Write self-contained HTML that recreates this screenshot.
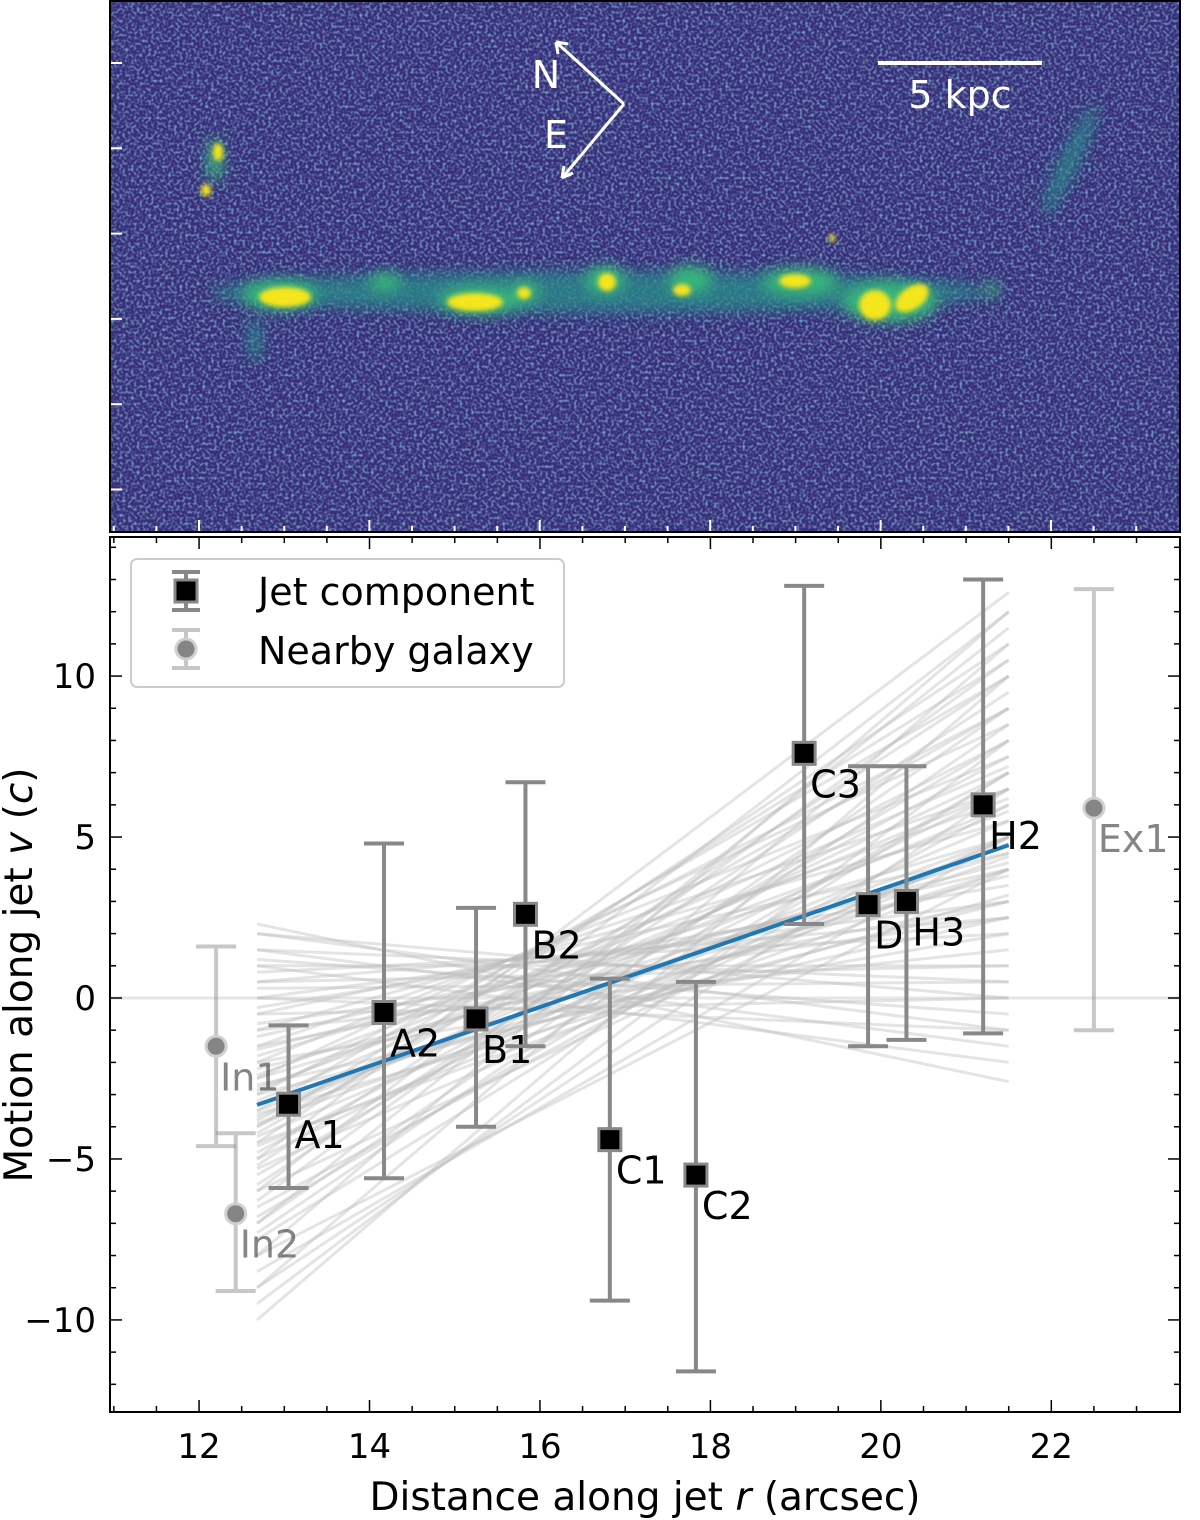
<!DOCTYPE html>
<html><head><meta charset="utf-8"><style>
html,body{margin:0;padding:0;background:#fff;}
svg{display:block;font-family:"DejaVu Sans","Liberation Sans",sans-serif;}
</style></head><body>
<svg id="fig" width="1200" height="1520" viewBox="0 0 1200 1520" xmlns="http://www.w3.org/2000/svg">
<defs>
<filter id="noise" x="0" y="0" width="100%" height="100%">
<feTurbulence type="fractalNoise" baseFrequency="0.35" numOctaves="1" seed="3" result="t"/>
<feColorMatrix type="matrix" values="0 0 0 0 0.17  0 0 0 0 0.42  0 0 0 0 0.56  0 0 0 2.6 -1.15"/>
</filter>
<filter id="blur6"><feGaussianBlur stdDeviation="7"/></filter>
<filter id="blur3"><feGaussianBlur stdDeviation="2.5"/></filter>
<clipPath id="imgclip"><rect x="110" y="0" width="1070" height="532"/></clipPath>
</defs>
<g id="image-panel" clip-path="url(#imgclip)">
<rect x="110" y="0" width="1070" height="532" fill="#3a2d7b"/>
<rect x="110" y="0" width="1070" height="532" filter="url(#noise)"/>
<g filter="url(#blur6)" fill="#2a8a8a" opacity="0.8">
<ellipse cx="600" cy="292" rx="390" ry="20"/>
<ellipse cx="255" cy="340" rx="7" ry="22"/>
<ellipse cx="1070" cy="160" rx="9" ry="60" transform="rotate(25 1070 160)"/>
</g>
<g filter="url(#blur6)" fill="#38b57a">
<ellipse cx="280" cy="295" rx="38" ry="15"/><ellipse cx="385" cy="282" rx="16" ry="9"/>
<ellipse cx="480" cy="300" rx="42" ry="14"/><ellipse cx="525" cy="292" rx="14" ry="11"/>
<ellipse cx="605" cy="280" rx="20" ry="14"/><ellipse cx="690" cy="280" rx="22" ry="14"/>
<ellipse cx="800" cy="282" rx="38" ry="14"/><ellipse cx="890" cy="302" rx="48" ry="20"/>
<ellipse cx="992" cy="290" rx="7" ry="7"/><ellipse cx="215" cy="160" rx="7" ry="22"/>
</g>
<g filter="url(#blur3)" fill="#f4e51d">
<ellipse cx="285" cy="297" rx="26" ry="10"/><ellipse cx="475" cy="302" rx="28" ry="9"/>
<ellipse cx="524" cy="293" rx="7" ry="6"/><ellipse cx="607" cy="282" rx="9" ry="9"/>
<ellipse cx="682" cy="290" rx="9" ry="6"/><ellipse cx="795" cy="281" rx="16" ry="7"/>
<ellipse cx="875" cy="305" rx="16" ry="15"/><ellipse cx="912" cy="298" rx="19" ry="11" transform="rotate(-35 912 298)"/>
<ellipse cx="218" cy="152" rx="5" ry="9"/><ellipse cx="206" cy="190" rx="5" ry="6"/>
<ellipse cx="832" cy="238" rx="3" ry="4"/>
</g>
</g>
<g id="image-ticks" stroke="#fff" stroke-width="2"></g>
<rect x="110" y="1" width="1070" height="531" fill="none" stroke="#000" stroke-width="2"/>
<g stroke="#fff" stroke-width="3" fill="none">
<line x1="624" y1="104" x2="556" y2="42"/><line x1="624" y1="104" x2="562" y2="178"/>
<path d="M556 42 l12 2 M556 42 l2 12 M562 178 l2 -12 M562 178 l11 -5"/>
</g>
<text x="546" y="88" fill="#fff" font-size="38" text-anchor="middle">N</text>
<text x="556" y="148" fill="#fff" font-size="38" text-anchor="middle">E</text>
<line x1="878" y1="63" x2="1042" y2="63" stroke="#fff" stroke-width="4"/>
<text x="960" y="108" fill="#fff" font-size="38" text-anchor="middle">5 kpc</text>

<g id="plot"></g>
</svg>
<script>
const NS="http://www.w3.org/2000/svg";
const names=["A1","A2","B1","B2","C1","C2","C3","D","H3","H2"];
const rVals=[13.05,14.17,15.25,15.83,16.82,17.83,19.10,19.85,20.30,21.20];
const vVals=[-3.3,-0.45,-0.65,2.6,-4.4,-5.5,7.6,2.9,3.0,6.0];
const vHi=[-0.85,4.8,2.8,6.7,0.6,0.5,12.8,7.2,7.2,13.0];
const vLo=[-5.9,-5.6,-4.0,-1.5,-9.4,-11.6,2.3,-1.5,-1.3,-1.1];
const galNames=["In1","In2","Ex1"];
const galR=[12.2,12.43,22.5];
const galV=[-1.5,-6.7,5.9];
const galHi=[1.6,-4.2,12.7];
const galLo=[-4.6,-9.1,-1.0];
const fitR=[12.68,21.5];
const fitV=[-3.32,4.75];
const fanLeft=[2.3,2.0,1.5,1.0,0.5,0,-0.5,-1,-1.5,-2,-2.5,-3,-3.5,-4,-4.5,-5,-6,-7,-8,-9,-10,-9.5,-9,-8.5,-8,-7.5,-7,-6.5,-6,-5.5,-5,-4.5,-4,-3.5,-3,-2.5,-2,-1.5,-1,-0.5,0,0.5,1,1.5,2,-2.8,-3.2,-3.8,-4.2,-5.2,-5.8,-6.3,-2.2,-1.8,-1.2,-0.8,-0.3,0.3,0.8,1.2,-3.3,-3.7,-4.3,-4.8,-5.3,-6.8,-7.3,-2.7,-3.6,-4.6,-2.4,-1.6,-2.9,-3.9];
const fanRight=[-2.6,-1.0,0.5,1.0,2.5,3,4.5,5.5,6.5,7.5,8.5,9,10,10.5,11,12.6,12,11.5,12,11,10,8,6.5,5,4,7,9,6,5,8,6.5,4,7,5,3,4.5,2,3,1.5,0,-1,1,-2,-1.5,0,5.8,6.5,8,9,10,9.5,10.5,3.8,5,4,2.5,3.5,0.5,2,-0.5,4,6,5.5,7.5,5,7,8.5,2.5,3.2,4.8,6.2,4.2,7.2,4.4];
const xTicks=[12,14,16,18,20,22];
const yTicks=[-10,-5,0,5,10];

const X0=110,X1=1180,Y0=537,Y1=1412;
const xmin=10.955,xmax=23.51,ymin=-12.86,ymax=14.32;
const sx=r=>X0+(r-xmin)/(xmax-xmin)*(X1-X0);
const sy=v=>Y1-(v-ymin)/(ymax-ymin)*(Y1-Y0);
const plot=document.getElementById('plot');
function mk(tag,attrs,parent,text){const e=document.createElementNS(NS,tag);for(const k in attrs)e.setAttribute(k,attrs[k]);if(text!==undefined)e.textContent=text;(parent||plot).appendChild(e);return e;}

const it=document.getElementById('image-ticks');
const imgX=v=>199+(v-12)*85.2;
for(let v=11;v<=23.5;v+=0.5){const x=imgX(v);if(x<112||x>1178)continue;const L=(Math.abs(v-Math.round(v/2)*2)<1e-6)?12:6;mk('line',{x1:x,y1:532,x2:x,y2:532-L},it);}
for(let i=0;i<6;i++){const y=63+i*85.3;mk('line',{x1:110,y1:y,x2:122,y2:y},it);}

let e=mk('line',{x1:X0,y1:sy(0),x2:X1,y2:sy(0),stroke:'#e6e6e6','stroke-width':3});



for(let i=0;i<fanLeft.length;i++){
 e=mk('line',{x1:sx(fitR[0]),y1:sy(fanLeft[i]),x2:sx(fitR[1]),y2:sy(fanRight[i]),stroke:'#bbbbbb','stroke-width':3,opacity:0.4});
 
 
}
for(let i=0;i<galR.length;i++){
 const g=mk('g',{opacity:0.55});
 
 
 const x=sx(galR[i]);
 mk('line',{x1:x,y1:sy(galHi[i]),x2:x,y2:sy(galLo[i]),stroke:'#999','stroke-width':4},g);
 mk('line',{x1:x-20,y1:sy(galHi[i]),x2:x+20,y2:sy(galHi[i]),stroke:'#999','stroke-width':4},g);
 mk('line',{x1:x-20,y1:sy(galLo[i]),x2:x+20,y2:sy(galLo[i]),stroke:'#999','stroke-width':4},g);
 mk('circle',{cx:x,cy:sy(galV[i]),r:10,fill:'#222',stroke:'#aaa','stroke-width':3},g);
 mk('text',{x:x+4,y:sy(galV[i])+44,fill:'#222','font-size':38},g,galNames[i]);
}
e=mk('line',{x1:sx(fitR[0]),y1:sy(fitV[0]),x2:sx(fitR[1]),y2:sy(fitV[1]),stroke:'#1f77b4','stroke-width':4});


for(let i=0;i<rVals.length;i++){
 const g=mk('g',{});
 
 
 const x=sx(rVals[i]);
 mk('line',{x1:x,y1:sy(vHi[i]),x2:x,y2:sy(vLo[i]),stroke:'#888','stroke-width':4},g);
 mk('line',{x1:x-20,y1:sy(vHi[i]),x2:x+20,y2:sy(vHi[i]),stroke:'#888','stroke-width':4},g);
 mk('line',{x1:x-20,y1:sy(vLo[i]),x2:x+20,y2:sy(vLo[i]),stroke:'#888','stroke-width':4},g);
 mk('rect',{x:x-11,y:sy(vVals[i])-11,width:22,height:22,fill:'#000',stroke:'#888','stroke-width':3},g);
 mk('text',{x:x+6,y:sy(vVals[i])+44,fill:'#000','font-size':38},g,names[i]);
}
mk('rect',{x:X0,y:Y0,width:X1-X0,height:Y1-Y0,fill:'none',stroke:'#000','stroke-width':2});
for(let v=11;v<=23.5;v+=0.5){const x=sx(v);if(x<X0+1||x>X1-1)continue;const maj=Math.abs(v-Math.round(v/2)*2)<1e-6;const L=maj?12:6;
 mk('line',{x1:x,y1:Y1,x2:x,y2:Y1-L,stroke:'#000','stroke-width':1.5});mk('line',{x1:x,y1:Y0,x2:x,y2:Y0+L,stroke:'#000','stroke-width':1.5});}
for(const t of xTicks){e=mk('text',{x:sx(t),y:Y1+46,'font-size':34,'text-anchor':'middle'},plot,String(t));
 
 }
for(let v=-12;v<=14;v+=1){const y=sy(v);const maj=v%5===0;const L=maj?12:6;
 mk('line',{x1:X0,y1:y,x2:X0+L,y2:y,stroke:'#000','stroke-width':1.5});mk('line',{x1:X1,y1:y,x2:X1-L,y2:y,stroke:'#000','stroke-width':1.5});}
for(const t of yTicks){e=mk('text',{x:X0-14,y:sy(t)+12,'font-size':34,'text-anchor':'end'},plot,t<0?'\u2212'+(-t):String(t));
 
 }
e=mk('text',{x:645,y:1510,'font-size':39,'text-anchor':'middle'},plot);
e.innerHTML='Distance along jet <tspan font-style="italic">r</tspan> (arcsec)';


e=mk('text',{x:0,y:0,'font-size':39,'text-anchor':'middle',transform:'translate(32,975) rotate(-90)'},plot);
e.innerHTML='Motion along jet <tspan font-style="italic">v</tspan> (<tspan font-style="italic">c</tspan>)';


const lg=mk('g',{});


mk('rect',{x:131,y:559,width:433,height:128,rx:6,fill:'#fff',stroke:'#ccc','stroke-width':2},lg);
mk('line',{x1:186,y1:572,x2:186,y2:610,stroke:'#888','stroke-width':4},lg);
mk('line',{x1:172,y1:572,x2:200,y2:572,stroke:'#888','stroke-width':4},lg);
mk('line',{x1:172,y1:610,x2:200,y2:610,stroke:'#888','stroke-width':4},lg);
mk('rect',{x:175,y:580,width:22,height:22,fill:'#000',stroke:'#888','stroke-width':3},lg);
mk('text',{x:258,y:605,'font-size':38},lg,'Jet component');
const g2=mk('g',{opacity:0.55},lg);
mk('line',{x1:186,y1:630,x2:186,y2:668,stroke:'#999','stroke-width':4},g2);
mk('line',{x1:172,y1:630,x2:200,y2:630,stroke:'#999','stroke-width':4},g2);
mk('line',{x1:172,y1:668,x2:200,y2:668,stroke:'#999','stroke-width':4},g2);
mk('circle',{cx:186,cy:649,r:10,fill:'#222',stroke:'#aaa','stroke-width':3},g2);
mk('text',{x:258,y:664,'font-size':38},lg,'Nearby galaxy');
</script>
</body></html>
